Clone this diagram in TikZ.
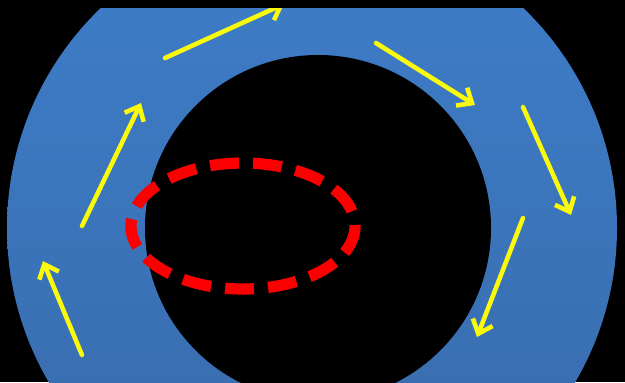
\documentclass[tikz,border=0pt]{standalone}
\usetikzlibrary{arrows.meta}
\definecolor{ringtop}{RGB}{62,126,202}
\definecolor{ringbot}{RGB}{56,106,170}
\definecolor{flowyellow}{RGB}{250,250,10}
\definecolor{markred}{RGB}{250,0,0}
\tikzset{
  flow/.style={flowyellow, line width=2.6pt, line cap=round,
    -{Straight Barb[length=7pt,width=12pt,line width=2.6pt]}},
  redring/.style={markred, line width=6.4pt, dash pattern=on 16.5pt off 8pt}
}
\begin{document}
\begin{tikzpicture}[x=0.02cm, y=-0.02cm]
\useasboundingbox (0,0) rectangle (625,382);
\fill[black] (0,0) rectangle (625,382);

%% Ring: outer and inner circle
\def\rout{305}
\def\rin{173}
\coordinate (oc) at (312,228);
\coordinate (ic) at (318,228);
\begin{scope}
\clip (0,0) rectangle (625,382);
\shade[top color=ringtop, bottom color=ringbot] (oc) circle (\rout);
\fill[black] (ic) circle (\rin);
\end{scope}

%% Red dashed ellipse
\coordinate (ec) at (243,226);
\draw[redring] (ec) ellipse (112 and 63);

%% Flow arrows round the ring (tail -> head)
\coordinate (a1) at (82,355);  \coordinate (b1) at (43,261);
\coordinate (a2) at (82,226);  \coordinate (b2) at (141,103);
\coordinate (a3) at (165,58);  \coordinate (b3) at (284,4);
\coordinate (a4) at (376,43);  \coordinate (b4) at (475,105);
\coordinate (a5) at (523,107); \coordinate (b5) at (571,215);
\coordinate (a6) at (523,218); \coordinate (b6) at (477,337);
\draw[flow] (a1) -- (b1);
\draw[flow] (a2) -- (b2);
\draw[flow] (a3) -- (b3);
\draw[flow] (a4) -- (b4);
\draw[flow] (a5) -- (b5);
\draw[flow] (a6) -- (b6);

%% Top black band
\fill[black] (0,0) rectangle (625,8);
\end{tikzpicture}
\end{document}
